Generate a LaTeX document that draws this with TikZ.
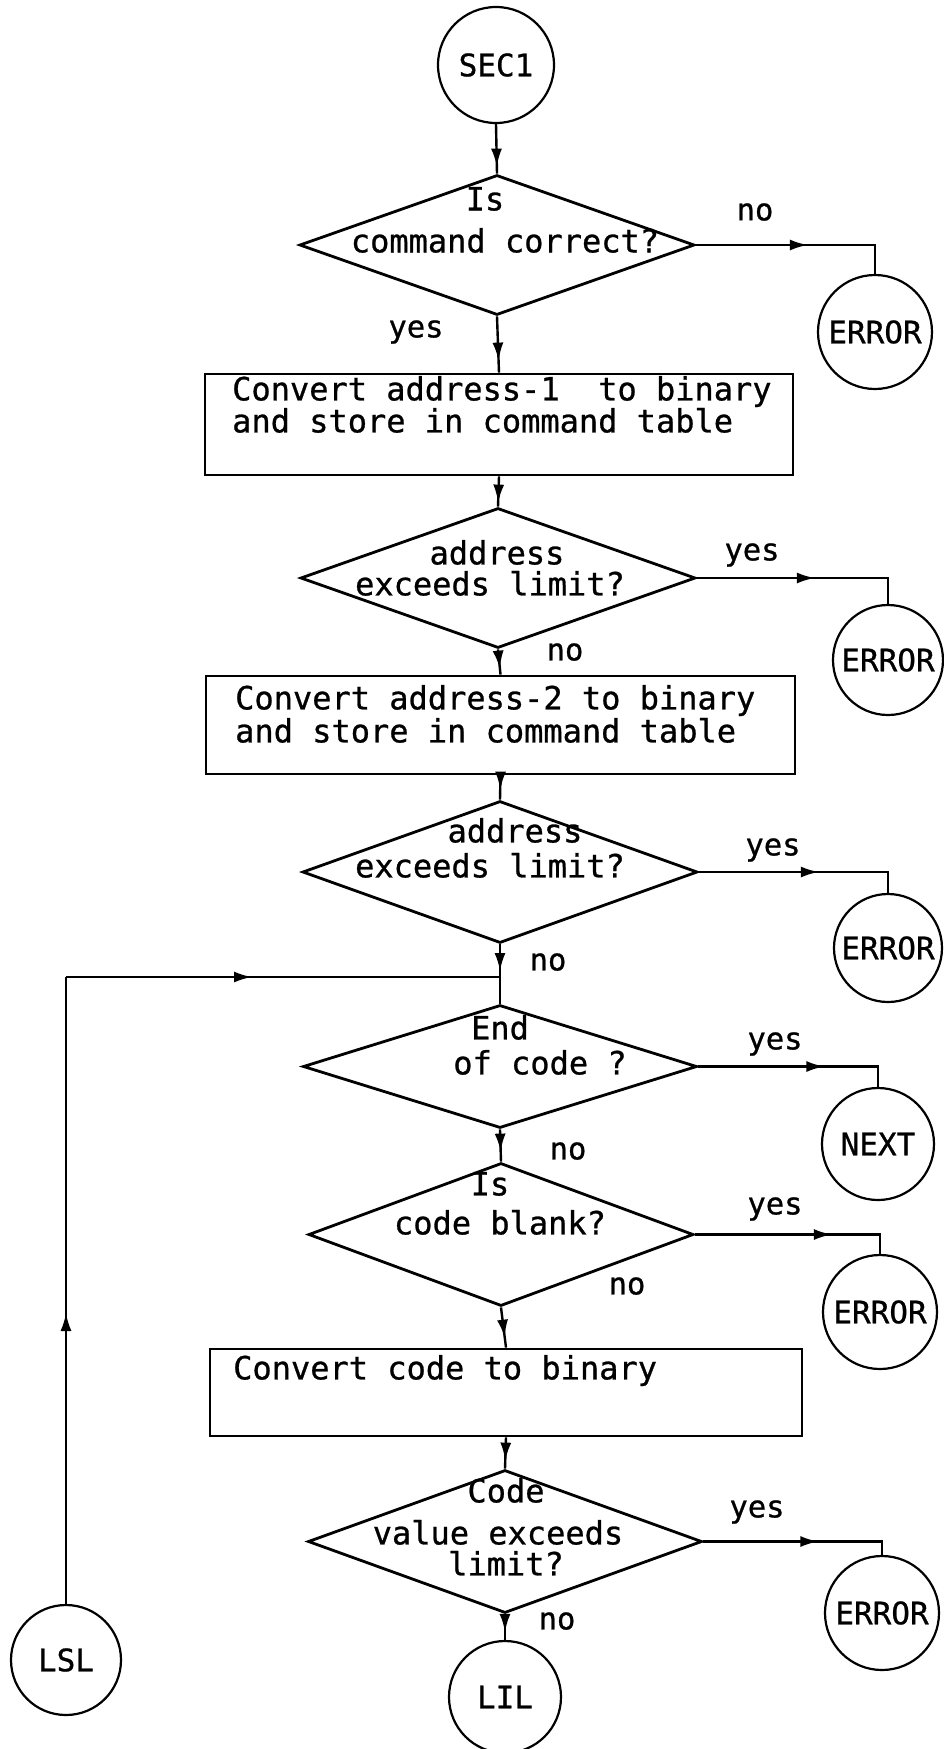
\documentclass[tikz,border=0pt]{standalone}
\usepackage{fontspec}
\newfontfamily\plotfont[FakeBold=0.8]{DejaVu Sans Mono}
\usetikzlibrary{shapes.geometric,arrows.meta,decorations.markings}
\begin{document}
\begin{tikzpicture}[x=1pt,y=-1pt,
  txt/.style={font=\plotfont\fontsize{32}{36}\selectfont, inner sep=0pt, text height=1.1ex, text depth=0pt},
  lbl/.style={font=\plotfont\fontsize{30.5}{36}\selectfont, inner sep=0pt, text height=1.1ex, text depth=0pt},
  dec/.style={diamond, draw, line width=2.8pt, inner sep=0pt},
  box/.style={rectangle, draw, line width=2.8pt, inner sep=0pt},
  circ/.style={circle, draw, line width=2.2pt, inner sep=0pt, minimum size=#1,
     font=\plotfont\fontsize{31}{36}\selectfont},
  conn/.style={line width=2.4pt},
  arrowat/.style={conn, postaction={decorate}, decoration={markings,
     mark=at position #1 with {\arrow{Latex[length=18pt,width=11pt]}}}}
]
\useasboundingbox (0,0) rectangle (944,1749);
\fill[white] (0,0) rectangle (944,1749);

% start
\node[circ=116pt] (sec1) at (496,65) {SEC1};

% decision 1
\node[dec, minimum width=395pt, minimum height=140pt] (d1) at (497,245) {};
\node[txt] (d1a) at (485,208) {Is};
\node[txt] (d1b) at (505,250) {command correct?};
\node[lbl] (d1y) at (416,335) {yes};
\node[lbl] (d1n) at (755,218) {no};
\node[circ=114pt] (err1) at (875,332) {ERROR};

% box 1
\node[box, minimum width=588pt, minimum height=101pt] (b1) at (499,424.5) {};
\node[txt, anchor=west] (b1a) at (232,398) {Convert address-1\ \ to binary};
\node[txt, anchor=west] (b1b) at (232,430) {and store in command table};

% decision 2
\node[dec, minimum width=395pt, minimum height=140pt] (d2) at (498,578) {};
\node[txt] (d2a) at (497,562) {address};
\node[txt] (d2b) at (490,593) {exceeds limit?};
\node[lbl] (d2y) at (752,558) {yes};
\node[lbl] (d2n) at (565,658) {no};
\node[circ=110pt] (err2) at (888,660) {ERROR};

% box 2
\node[box, minimum width=589pt, minimum height=98pt] (b2) at (500.5,725) {};
\node[txt, anchor=west] (b2a) at (235,707) {Convert address-2 to binary};
\node[txt, anchor=west] (b2b) at (235,740) {and store in command table};

% decision 3
\node[dec, minimum width=395pt, minimum height=142pt] (d3) at (500,872) {};
\node[txt] (d3a) at (515,840) {address};
\node[txt] (d3b) at (490,875) {exceeds limit?};
\node[lbl] (d3y) at (773,853) {yes};
\node[lbl] (d3n) at (548,968) {no};
\node[circ=108pt] (err3) at (888,948) {ERROR};

% decision 4
\node[dec, minimum width=394pt, minimum height=123pt] (d4) at (500,1066.5) {};
\node[txt] (d4a) at (500,1037) {End};
\node[txt] (d4b) at (540,1072) {of code ?};
\node[lbl] (d4y) at (775,1047) {yes};
\node[lbl] (d4n) at (568,1157) {no};
\node[circ=112pt] (next) at (878,1144) {NEXT};

% decision 5
\node[dec, minimum width=385pt, minimum height=143pt] (d5) at (501,1234.5) {};
\node[txt] (d5a) at (490,1193) {Is};
\node[txt] (d5b) at (500,1232) {code blank?};
\node[lbl] (d5y) at (775,1212) {yes};
\node[lbl] (d5n) at (627,1292) {no};
\node[circ=114pt] (err4) at (880,1312) {ERROR};

% box 3
\node[box, minimum width=592pt, minimum height=87pt] (b3) at (506,1392.5) {};
\node[txt, anchor=west] (b3a) at (233,1377) {Convert code to binary};

% decision 6
\node[dec, minimum width=394pt, minimum height=143pt] (d6) at (505,1541.5) {};
\node[txt] (d6a) at (506,1500) {Code};
\node[txt] (d6b) at (498,1542) {value exceeds};
\node[txt] (d6c) at (506,1573) {limit?};
\node[lbl] (d6y) at (757,1515) {yes};
\node[lbl] (d6n) at (557,1627) {no};
\node[circ=114pt] (err5) at (882,1613) {ERROR};

\node[circ=112pt] (lil) at (505,1697) {LIL};
\node[circ=110pt] (lsl) at (66,1660) {LSL};

% loop coordinates
\coordinate (loopc) at (66,977);
\coordinate (junc) at (d3.south |- loopc);

% main flow
\draw[arrowat=-7pt] (sec1.south) -- (d1.north);
\draw[arrowat=-12pt] (d1.south) -- (b1.north);
\draw[arrowat=-4pt] (b1.south) -- (d2.north);
\draw[arrowat=-6pt] (d2.south) -- (b2.north);
\draw[arrowat=-10pt] (b2.south) -- (d3.north);
\draw[arrowat=-6pt] (d3.south) -- (junc);
\draw[conn] (junc) -- (d4.north);
\draw[arrowat=-10pt] (d4.south) -- (d5.north);
\draw[arrowat=-10pt] (d5.south) -- (b3.north);
\draw[arrowat=-8pt] (b3.south) -- (d6.north);
\draw[arrowat=-8pt] (d6.south) -- (lil.north);

% side exits
\draw[arrowat=112pt] (d1.east) -| (err1.north);
\draw[arrowat=118pt] (d2.east) -| (err2.north);
\draw[arrowat=120pt] (d3.east) -| (err3.north);
\draw[arrowat=126pt] (d4.east) -| (next.north);
\draw[arrowat=137pt] (d5.east) -| (err4.north);
\draw[arrowat=115pt] (d6.east) -| (err5.north);

% loop back
\draw[arrowat=-336pt] (lsl.north) -- (loopc);
\draw[arrowat=186pt] (loopc) -- (junc);
\end{tikzpicture}
\end{document}
